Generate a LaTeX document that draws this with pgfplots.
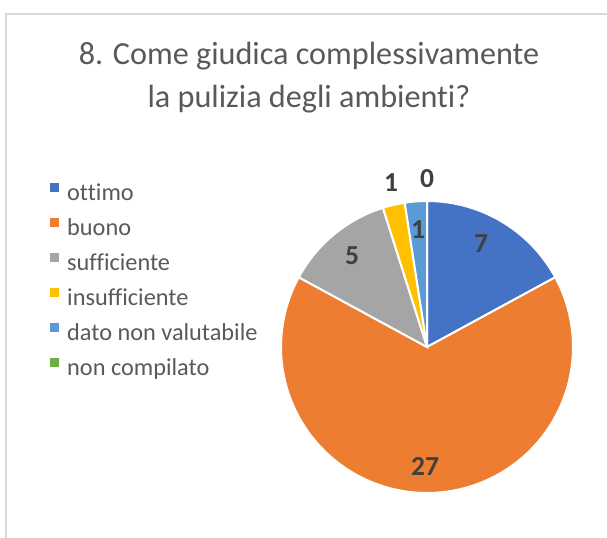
\documentclass[border=0pt]{standalone}
\usepackage{fontspec}
\setmainfont{Carlito}[Ligatures={NoCommon}]
\usepackage{pgfplots}
\usepackage{pgfplotstable}
\pgfplotsset{compat=1.18}
\definecolor{cA}{HTML}{4472C4}
\definecolor{cB}{HTML}{ED7D31}
\definecolor{cC}{HTML}{A5A5A5}
\definecolor{cD}{HTML}{FFC000}
\definecolor{cE}{HTML}{5B9BD5}
\definecolor{cF}{HTML}{70AD47}
\definecolor{txt}{HTML}{595959}
\definecolor{lbl}{HTML}{404040}
\definecolor{frame}{HTML}{D9D9D9}
% label, value, colour, data-label position (px)
\pgfplotstableread[col sep=comma]{
label,value,color,lx,ly
ottimo,7,cA,481,244
buono,27,cB,425,466
sufficiente,5,cC,352,256
insufficiente,1,cD,391,183
dato non valutabile,1,cE,418,230
non compilato,0,cF,427,179
}\pietable
\begin{document}
\begin{tikzpicture}
\begin{axis}[
  at={(0,0)}, anchor=south west,
  width=607bp, height=538bp, scale only axis,
  xmin=0, xmax=607, ymin=0, ymax=538, y dir=reverse,
  hide axis, clip=false,
  legend cell align=left,
  legend style={at={(axis cs:47,181)}, anchor=north west, draw=none, fill=none,
    font=\fontsize{24.3bp}{28bp}\selectfont, text=txt,
    nodes={inner sep=0pt, text height=17bp, text depth=5bp},
    row sep=12.2bp, column sep=0bp},
  legend image code/.code={\fill[#1, draw=none] (0bp,3bp) rectangle (8.8bp,11.8bp);
    \path[draw=none, fill=none] (0bp,0bp) -- (17bp,0bp);},
]
\draw[frame, line width=2bp] (axis cs:6,538) -- (axis cs:6,14) -- (axis cs:607,14);
\node[text=txt, font=\fontsize{32.2bp}{38bp}\selectfont, anchor=base] at (axis cs:309,65) {8. Come giudica complessivamente};
\node[text=txt, font=\fontsize{32.2bp}{38bp}\selectfont, anchor=base] at (axis cs:309,107) {la pulizia degli ambienti?};
\pgfmathsetmacro\total{0}
\pgfplotsforeachungrouped \i in {0,...,5}{%
  \pgfplotstablegetelem{\i}{value}\of\pietable
  \pgfmathsetmacro\total{\total+\pgfplotsretval}%
}
\pgfmathsetmacro\cum{0}
\pgfplotsforeachungrouped \i in {0,...,5}{%
  \pgfplotstablegetelem{\i}{value}\of\pietable \edef\v{\pgfplotsretval}%
  \pgfplotstablegetelem{\i}{color}\of\pietable \edef\col{\pgfplotsretval}%
  \pgfplotstablegetelem{\i}{label}\of\pietable \edef\lab{\pgfplotsretval}%
  \pgfplotstablegetelem{\i}{lx}\of\pietable \edef\lx{\pgfplotsretval}%
  \pgfplotstablegetelem{\i}{ly}\of\pietable \edef\ly{\pgfplotsretval}%
  \pgfmathsetmacro\a{90-360*\cum/\total}%
  \pgfmathsetmacro\b{90-360*(\cum+\v)/\total}%
  \ifnum\v>0
    \edef\temp{\noexpand\addplot[fill=\col, draw=white, line width=2bp, domain=\b:\a, samples=90, variable=\noexpand\t]
      ({427+146*cos(\noexpand\t)},{347-146*sin(\noexpand\t)}) -- (axis cs:427,347) -- cycle;
      \noexpand\addlegendentry{\lab}}%
  \else
    \edef\temp{\noexpand\addlegendimage{fill=\col, draw=none}\noexpand\addlegendentry{\lab}}%
  \fi
  \temp
  \edef\temp{\noexpand\node[text=lbl, font=\noexpand\fontsize{27.5bp}{30bp}\noexpand\selectfont\noexpand\bfseries] at (axis cs:\lx,\ly) {\v};}%
  \temp
  \pgfmathsetmacro\cum{\cum+\v}%
}
\end{axis}
\pgfresetboundingbox
\path (0,0) rectangle (607bp,538bp);
\end{tikzpicture}
\end{document}
